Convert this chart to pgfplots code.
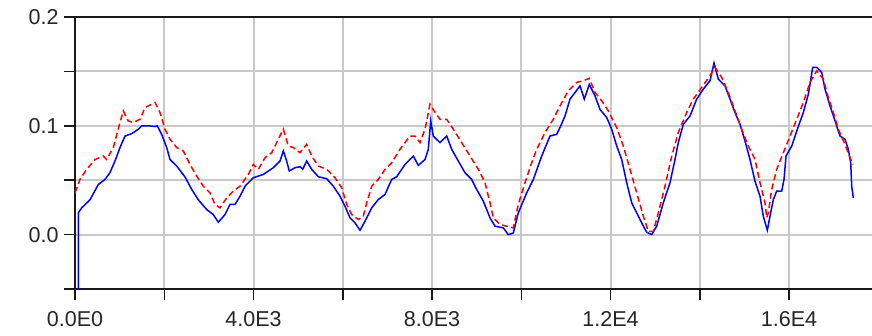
\documentclass[border=0pt]{standalone}
\usepackage{fontspec}
\setmainfont{Liberation Sans}
\usepackage{pgfplots}
\pgfplotsset{compat=1.18}
\begin{document}
\begin{tikzpicture}
\begin{axis}[
  scale only axis,
  width=797pt, height=272pt,
  xmin=0, xmax=17860,
  ymin=-0.05, ymax=0.2,
  axis x line=box, axis y line=left,
  axis line style={-, line width=1.7pt, black!90},
  xtick={0,2000,4000,6000,8000,10000,12000,14000,16000},
  xticklabels={0.0E0,,4.0E3,,8.0E3,,1.2E4,,1.6E4},
  scaled x ticks=false, scaled y ticks=false,
  ytick={-0.05,0,0.05,0.1,0.15,0.2},
  yticklabels={,0.0,,0.1,,0.2},
  xtick pos=lower, ytick pos=left,
  tick align=outside,
  major tick length=11pt,
  tick style={line width=1.5pt, black!90},
  grid=major,
  major grid style={line width=2pt, color=black!21},
  ticklabel style={font=\fontsize{21.5}{24}\selectfont, color=black!85},
  xticklabel style={yshift=-8pt},
  yticklabel style={xshift=-2pt},
  /pgf/number format/assume math mode=true,
  clip=true,
]
\addplot[blue, line width=1.5pt] coordinates {
(74,-0.06)(74,0.020)(150,0.0246)(336,0.032)(522,0.046)(672,0.0507)(784,0.057)(896,0.0676)(1008,0.080)(1120,0.0906)(1271,0.0928)(1418,0.0968)(1495,0.0999)(1681,0.0999)(1793,0.0993)(1844,0.1)(1943,0.092)(2055,0.080)(2129,0.069)(2279,0.063)(2465,0.053)(2615,0.0415)(2763,0.032)(2951,0.023)(3099,0.0184)(3211,0.0114)(3361,0.0184)(3473,0.0277)(3585,0.0277)(3698,0.0353)(3810,0.0445)(3996,0.0523)(4220,0.0553)(4444,0.0615)(4594,0.0676)(4668,0.0768)(4743,0.0676)(4802,0.0584)(4930,0.0615)(5042,0.0624)(5102,0.060)(5192,0.0676)(5304,0.060)(5452,0.0532)(5640,0.0514)(5788,0.0445)(5938,0.0353)(6050,0.0261)(6162,0.0154)(6275,0.0108)(6387,0.004)(6499,0.0123)(6649,0.0246)(6797,0.0323)(6947,0.0369)(7097,0.0507)(7209,0.0532)(7395,0.0645)(7581,0.0722)(7693,0.0636)(7843,0.069)(7917,0.0784)(7971,0.1045)(8029,0.0906)(8179,0.0845)(8329,0.0906)(8441,0.0784)(8589,0.0676)(8739,0.0569)(8889,0.0507)(9001,0.0415)(9150,0.0307)(9300,0.0154)(9412,0.0077)(9598,0.0062)(9710,0.0)(9822,0.0015)(9934,0.020)(10122,0.0384)(10271,0.0507)(10458,0.0722)(10644,0.0906)(10794,0.0922)(10868,0.0984)(10980,0.109)(11092,0.1245)(11205,0.1306)(11317,0.1367)(11413,0.1245)(11525,0.138)(11653,0.1275)(11765,0.115)(11915,0.1076)(12027,0.0968)(12139,0.0814)(12251,0.069)(12363,0.0477)(12475,0.0292)(12587,0.020)(12699,0.0108)(12811,0.0021)(12923,0.0)(13035,0.0077)(13183,0.0292)(13333,0.0477)(13445,0.069)(13519,0.0845)(13631,0.1014)(13781,0.109)(13931,0.1245)(14079,0.1337)(14230,0.1414)(14319,0.1577)(14416,0.1429)(14566,0.1367)(14678,0.1245)(14790,0.1122)(14902,0.1014)(15014,0.086)(15126,0.069)(15238,0.0491)(15350,0.0353)(15424,0.0169)(15514,0.004)(15574,0.0169)(15648,0.032)(15724,0.040)(15836,0.040)(15888,0.0507)(15933,0.0722)(16061,0.0814)(16186,0.0968)(16321,0.1122)(16433,0.129)(16531,0.1537)(16621,0.1537)(16733,0.149)(16807,0.1337)(16919,0.1183)(17031,0.1045)(17143,0.0906)(17255,0.0876)(17329,0.0784)(17383,0.066)(17405,0.0445)(17441,0.0338)
};
\addplot[red, line width=1.5pt, dash pattern=on 6pt off 3.5pt] coordinates {
(0,0.0384)(112,0.0507)(262,0.060)(448,0.069)(634,0.0722)(710,0.069)(858,0.080)(1008,0.103)(1082,0.1137)(1194,0.1045)(1306,0.103)(1457,0.106)(1569,0.1168)(1793,0.1214)(1905,0.1122)(2017,0.0968)(2129,0.0876)(2279,0.080)(2428,0.0768)(2577,0.0645)(2727,0.0538)(2875,0.0445)(3025,0.0384)(3137,0.0277)(3249,0.0246)(3400,0.0338)(3547,0.040)(3698,0.0445)(3884,0.0553)(3996,0.0645)(4108,0.060)(4258,0.0707)(4408,0.0753)(4556,0.0876)(4668,0.0968)(4780,0.0814)(4892,0.080)(5042,0.0753)(5192,0.083)(5304,0.0722)(5452,0.063)(5640,0.060)(5826,0.0523)(5977,0.043)(6089,0.0277)(6201,0.0184)(6349,0.0138)(6461,0.0169)(6537,0.0292)(6649,0.0445)(6797,0.0507)(6947,0.060)(7097,0.066)(7283,0.0784)(7507,0.0906)(7619,0.0906)(7731,0.0845)(7843,0.0968)(7955,0.1199)(8067,0.1122)(8179,0.106)(8329,0.106)(8477,0.0968)(8666,0.0845)(8852,0.0722)(9038,0.060)(9188,0.0477)(9300,0.0292)(9374,0.0154)(9524,0.0092)(9674,0.0077)(9822,0.0062)(9934,0.0277)(10084,0.0477)(10234,0.066)(10346,0.0784)(10532,0.0938)(10718,0.106)(10868,0.1183)(11055,0.1322)(11243,0.1399)(11391,0.1414)(11525,0.1436)(11653,0.1306)(11803,0.1229)(11951,0.1137)(12139,0.0984)(12287,0.0814)(12437,0.060)(12587,0.0384)(12736,0.0169)(12848,0.003)(12960,0.003)(13072,0.020)(13221,0.0445)(13372,0.0722)(13519,0.0938)(13707,0.1122)(13855,0.1245)(14044,0.1353)(14230,0.146)(14342,0.1537)(14491,0.1445)(14640,0.1306)(14790,0.1137)(14940,0.0968)(15088,0.0814)(15238,0.069)(15350,0.0477)(15462,0.0292)(15500,0.0154)(15537,0.020)(15612,0.0415)(15724,0.060)(15873,0.0753)(16023,0.0906)(16173,0.106)(16321,0.1214)(16471,0.1399)(16621,0.1506)(16769,0.1429)(16881,0.126)(16993,0.1122)(17105,0.0968)(17255,0.083)(17367,0.0707)(17441,0.0645)
};
\end{axis}
\pgfresetboundingbox
\path ([shift={(-75pt,-46pt)}]current axis.south west) rectangle ([shift={(0pt,17pt)}]current axis.north east);
\end{tikzpicture}
\end{document}
